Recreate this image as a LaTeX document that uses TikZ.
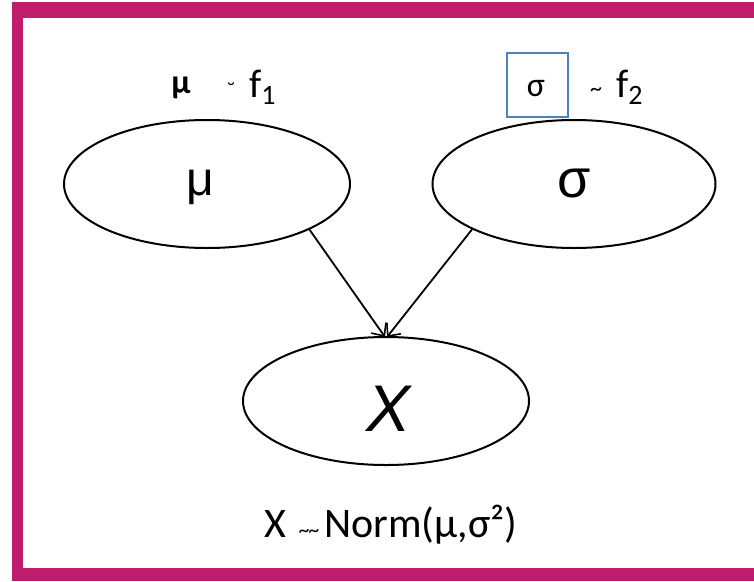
\documentclass[tikz,border=0pt]{standalone}
\usepackage{fontspec}
\setmainfont{Carlito}
\newfontfamily\dejavu{DejaVu Sans}
\newfontfamily\arialike{Liberation Sans}
\usetikzlibrary{shapes.geometric,arrows.meta}
\definecolor{framecol}{RGB}{192,28,110}
\definecolor{boxblue}{RGB}{79,129,189}
\newcommand{\fsz}[1]{\fontsize{#1}{#1}\selectfont}
\tikzset{
  ell/.style={draw=black, line width=2pt, ellipse, inner sep=0pt, minimum width=286pt, minimum height=128pt},
  lab/.style={inner sep=0pt, anchor=center},
  edge/.style={draw=black, line width=1.8pt, -{Straight Barb[length=10pt,width=18pt,line width=1.6pt]}},
}
\begin{document}
\begin{tikzpicture}[x=1pt,y=-1pt]
\useasboundingbox (0,0) rectangle (754,581);
\fill[framecol] (12,2) rectangle (754,581);
\fill[white] (23,18) rectangle (754,568);
% ellipses
\node[ell] (mu) at (207,184) {};
\node[ell, minimum width=283pt] (sigma) at (574,184) {};
\node[ell] (X) at (386,401) {};
% labels inside
\node[lab, font=\arialike\fsz{48}] (mulab) at (200,187) {μ};
\node[lab, font=\arialike\fsz{54}] (siglab) at (574,183) {σ};
\node[lab, font=\arialike\fsz{66}\itshape] (xlab) at (389,409) {X};
% top labels
\node[lab, font=\fsz{34}\bfseries] (mutop) at (181,88) {μ};
\node[lab, font=\dejavu\fsz{20}] (tilde1) at (231,91) {˘};
\node[lab, font=\fsz{40}, anchor=base west] (f1) at (249,97) {f\raisebox{-0.19em}{\fsz{28}1}};
\node[draw=boxblue, line width=1.5pt, minimum width=61pt, minimum height=64pt, inner sep=0pt] (sigbox) at (537.5,85) {};
\node[lab, font=\fsz{34}] (sigtop) at (536,89) {σ};
\node[lab, font=\fsz{24}] (tilde2) at (596,92) {\textasciitilde};
\node[lab, font=\fsz{40}, anchor=base west] (f2) at (616,97) {f\raisebox{-0.19em}{\fsz{28}2}};
% bottom
\node[lab, font=\fsz{42}, anchor=base west] (eq) at (264,537) {X\kern0.3em\raisebox{-0.02em}{\fsz{22}\textasciitilde\kern-0.05em\textasciitilde}\kern0.12em Norm(μ,σ²)};
% edges
\draw[edge] (mu.-24) -- ([xshift=-1pt,yshift=-1pt]X.north);
\draw[edge] (sigma.-156) -- ([xshift=1pt,yshift=-1pt]X.north);
\end{tikzpicture}
\end{document}
